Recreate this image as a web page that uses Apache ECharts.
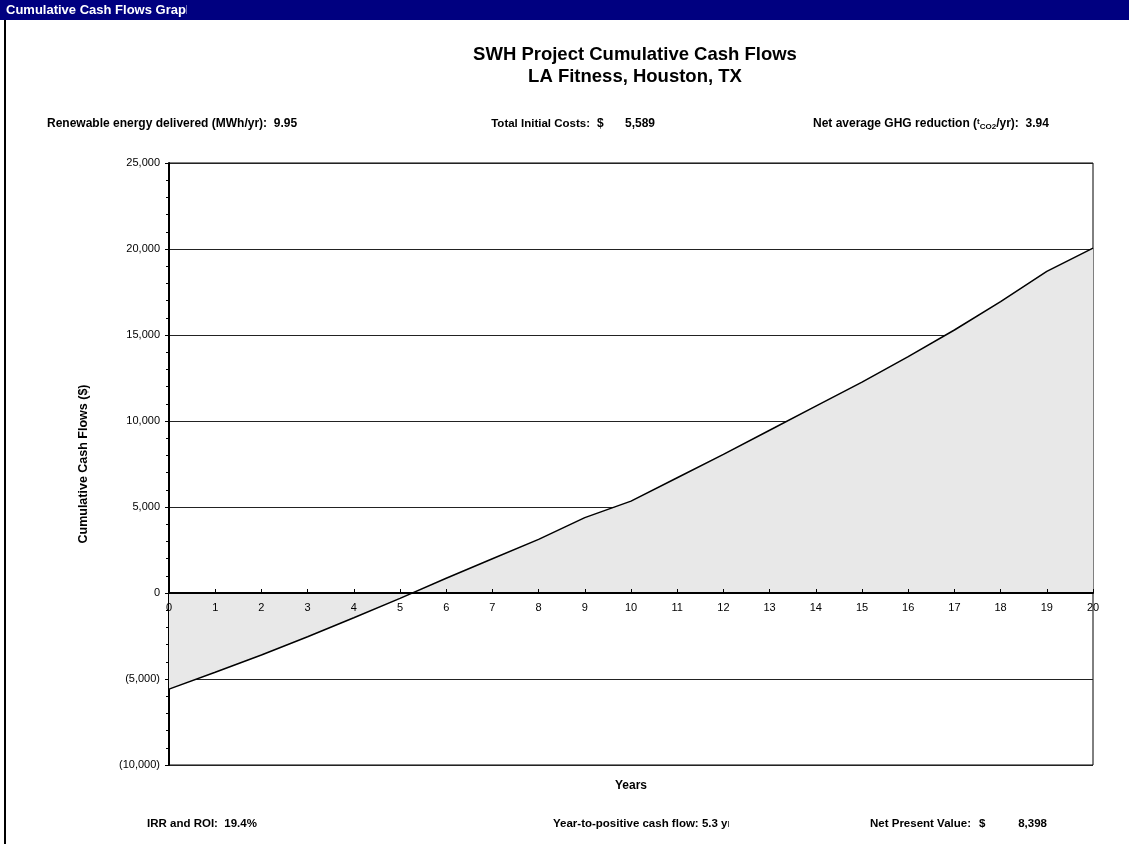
<!DOCTYPE html>
<html>
<head>
<meta charset="utf-8">
<script src="https://cdn.jsdelivr.net/npm/echarts@6/dist/echarts.min.js"></script>
<style>html,body{margin:0;padding:0;background:#fff;}#c{width:1129px;height:844px;}</style>
</head>
<body>
<div id="c"></div>
<script>
var years = [0,1,2,3,4,5,6,7,8,9,10,11,12,13,14,15,16,17,18,19,20];
var cumulativeCashFlows = [-5589,-4610,-3605,-2545,-1440,-310,855,1990,3120,4380,5340,6700,8060,9460,10860,12260,13740,15290,16940,18700,20050];
var yTicks = [-10000,-5000,0,5000,10000,15000,20000,25000];

var FONT = '"Liberation Sans", Arial, sans-serif';
function fmt(v){
  var s = Math.abs(v).toString().replace(/\B(?=(\d{3})+(?!\d))/g, ',');
  return v < 0 ? '(' + s + ')' : s;
}
var GRID = {left: 169, right: 36, top: 163, bottom: 79};
var plotH = 844 - GRID.top - GRID.bottom;
var yMin = yTicks[0], yMax = yTicks[yTicks.length - 1];
// place the x axis on the zero line (offset is measured from the grid bottom)
var xAxisOffset = -plotH * (0 - yMin) / (yMax - yMin);

var chart = echarts.init(document.getElementById('c'));
var INFO = 12;
function txt(x, y, text, align, size, clipW){
  var el = {type: 'text', x: x, y: y, z: 10, style: {text: text, fontFamily: FONT, fontSize: size || INFO, fontWeight: 'bold', fill: '#000', align: align || 'left', verticalAlign: 'middle'}};
  if (clipW) el.clipPath = {type: 'rect', shape: {x: 0, y: -12, width: clipW, height: 24}};
  return el;
}
var option = {
  animation: false,
  backgroundColor: '#fff',
  grid: {left: GRID.left, right: GRID.right, top: GRID.top, bottom: GRID.bottom, show: true, borderColor: '#000', borderWidth: 1, backgroundColor: 'transparent'},
  xAxis: {
    type: 'value', min: 0, max: 20, interval: 1, position: 'bottom', offset: xAxisOffset, z: 5,
    axisLine: {onZero: false, lineStyle: {color: '#000', width: 2}},
    axisTick: {show: true, inside: true, length: 4, lineStyle: {color: '#000'}},
    axisLabel: {color: '#000', fontFamily: FONT, fontSize: 11, margin: 9, showMinLabel: true, showMaxLabel: true},
    splitLine: {show: false}
  },
  yAxis: {
    type: 'value', min: yMin, max: yMax, interval: 5000,
    name: 'Cumulative Cash Flows ($)', nameLocation: 'middle', nameGap: 79, nameRotate: 90,
    nameTextStyle: {fontFamily: FONT, fontSize: 12.5, fontWeight: 'bold', color: '#000'},
    axisLine: {show: true, lineStyle: {color: '#000', width: 2}},
    axisTick: {show: true, length: 4, lineStyle: {color: '#000'}},
    minorTick: {show: true, splitNumber: 5, length: 3, lineStyle: {color: '#000'}},
    axisLabel: {color: '#000', fontFamily: FONT, fontSize: 11, margin: 9, formatter: fmt},
    splitLine: {show: true, lineStyle: {color: '#222', width: 1}}
  },
  series: [{
    type: 'line',
    data: years.map(function(y, i){ return [y, cumulativeCashFlows[i]]; }),
    symbol: 'none',
    lineStyle: {color: '#000', width: 1.5},
    areaStyle: {color: '#e8e8e8', opacity: 1},
    z: 3
  }],
  graphic: [
    {type: 'rect', shape: {x: 0, y: 0, width: 1129, height: 20}, style: {fill: '#000080'}, z: 5},
    {type: 'text', x: 6, y: 10, z: 6, style: {text: 'Cumulative Cash Flows Graph', fontFamily: FONT, fontSize: 13, fontWeight: 'bold', fill: '#fff', verticalAlign: 'middle'},
     clipPath: {type: 'rect', shape: {x: 0, y: -10, width: 181, height: 20}}},
    {type: 'rect', shape: {x: 4, y: 20, width: 2, height: 824}, style: {fill: '#000'}, z: 5},
    txt(635, 55, 'SWH Project Cumulative Cash Flows', 'center', 18.5),
    txt(635, 77, 'LA Fitness, Houston, TX', 'center', 18.5),
    txt(47, 124, 'Renewable energy delivered (MWh/yr):  9.95'),
    txt(590, 124, 'Total Initial Costs:', 'right', 11.5),
    txt(597, 124, '$'),
    txt(655, 124, '5,589', 'right'),
    {type: 'text', x: 813, y: 124, z: 10, style: {
      text: '{a|Net average GHG reduction (}{t|t}{s|CO2}{a|/yr):  3.94}',
      verticalAlign: 'middle',
      rich: {
        a: {fontFamily: FONT, fontSize: INFO, fontWeight: 'bold', color: '#000'},
        t: {fontFamily: FONT, fontSize: 8, fontWeight: 'bold', color: '#000', verticalAlign: 'top'},
        s: {fontFamily: FONT, fontSize: 8, fontWeight: 'bold', color: '#000', padding: [5, 0, 0, 0]}
      }
    }},
    txt(631, 786, 'Years', 'center'),
    txt(147, 824, 'IRR and ROI:  19.4%', 'left', 11.5),
    txt(553, 824, 'Year-to-positive cash flow: 5.3 yr', 'left', 11.5, 176),
    txt(870, 824, 'Net Present Value:', 'left', 11.5),
    txt(979, 824, '$', 'left', 11.5),
    txt(1047, 824, '8,398', 'right', 11.5)
  ]
};
chart.setOption(option);
</script>
</body>
</html>
